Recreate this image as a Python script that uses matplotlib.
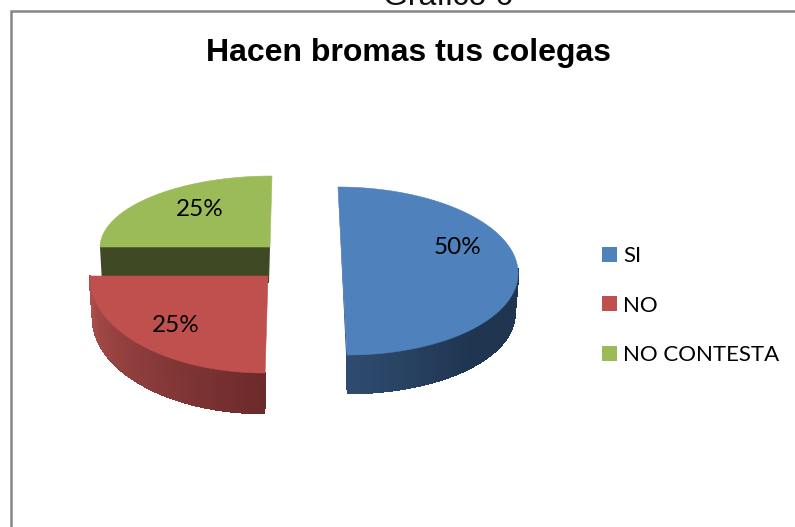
import numpy as np
import matplotlib
matplotlib.use("Agg")
import matplotlib.pyplot as plt
from matplotlib.patches import Patch, Polygon
from matplotlib.colors import to_rgb

categories = ["SI", "NO", "NO CONTESTA"]
values = [50, 25, 25]
colors = ["#4F81BD", "#C0504D", "#9BBB59"]
title = "Hacen bromas tus colegas"
caption = "Gráfico 6"

W, H = 795, 527
fig = plt.figure(figsize=(W / 100, H / 100), dpi=100)
ax = fig.add_axes([0, 0, 1, 1])
ax.set_xlim(0, W)
ax.set_ylim(H, 0)
ax.axis("off")

# exploded, tilted slice layout in pixels: (cx, cy, a, b, skew)
top_geom = [(342.5, 271, 175.5, 84, 0.054), (268, 276, 178, 97, -0.03), (270, 247, 170, 71, -0.028)]
bot_geom = [(343.5, 311, 171, 82, 0.054), (265, 317, 172, 96, -0.01), (269, 283, 168, 71, 0.0)]
side_cols = [("#2F4C70", "#1F3550"), ("#6C2A2B", "#AC4E4C"), ("#3F4A24", "#3F4A24")]
label_pos = [(458, 248), (176, 326), (200, 210)]


def pts(g, t):
    cx, cy, a, b, k = g
    return cx + a * np.cos(t) - k * b * np.sin(t), cy - b * np.sin(t)


def quad(tx, ty, bx, by, j, c, z):
    ax.add_patch(Polygon([(tx[j], ty[j]), (tx[j + 1], ty[j + 1]), (bx[j + 1], by[j + 1]), (bx[j], by[j])],
                         closed=True, fc=c, ec=c, lw=1.2, antialiased=False, zorder=z))


fractions = np.array(values) / sum(values)
ends = np.pi / 2 - 2 * np.pi * np.cumsum(fractions)
starts = ends + 2 * np.pi * fractions

for i in [2, 1, 0]:
    t = np.linspace(starts[i], ends[i], 121)
    tx, ty = pts(top_geom[i], t)
    bx, by = pts(bot_geom[i], t)
    c0, c1 = map(np.array, map(to_rgb, side_cols[i]))
    if i == 0:
        # thin inner wall along the straight edge, then the shaded rim
        ax.add_patch(Polygon([(tx[0], ty[0]), (tx[-1], ty[-1]), (bx[-1], by[-1])],
                             closed=True, fc="#1F3550", ec="none", zorder=2))
        for j in range(len(t) - 1):
            if t[j] <= 0.05:
                f = min(1.0, max(0.0, (t[j] + np.pi / 2) / 0.8))
                quad(tx, ty, bx, by, j, c0 + (c1 - c0) * f, 2)
    elif i == 1:
        for j in range(len(t) - 1):
            f = (t[j] - starts[i]) / (ends[i] - starts[i])
            quad(tx, ty, bx, by, j, c0 + (c1 - c0) * f, 3)
    else:
        # dark cut face seen behind the front slice
        lx, ly = pts(top_geom[i], starts[i])
        lbx, lby = pts(bot_geom[i], starts[i])
        ax.add_patch(Polygon([(lx, ly), top_geom[i][:2], bot_geom[i][:2], (lbx + 1, lby)],
                             closed=True, fc=side_cols[2][0], ec="none", zorder=1))
    ax.add_patch(Polygon(np.r_[[top_geom[i][:2]], np.c_[tx, ty]], closed=True, fc=colors[i], ec=colors[i],
                         lw=0.4, zorder=4 if i != 2 else 2))
    ax.text(*label_pos[i], f"{values[i]}%", ha="center", va="center", family="Lato", fontsize=17.5,
            color="black", zorder=6)

# chart frame (cut by the page on the right and bottom)
ax.plot([11, 11, W + 5], [H + 5, 11, 11], color="#868686", lw=1.8, solid_joinstyle="miter", zorder=5)

ax.text(408, 53, title, ha="center", va="center", family="Liberation Sans", fontweight="bold",
        fontsize=23, color="black")
ax.text(448, 5, caption, ha="center", va="baseline", family="Liberation Sans", fontsize=23, color="#111111")

handles = [Patch(fc=c, ec="none") for c in colors]
ax.legend(handles, categories, loc="upper left", bbox_to_anchor=(602, 246), bbox_transform=ax.transData,
          frameon=False, borderpad=0, borderaxespad=0, handlelength=0.68, handleheight=0.68, handletextpad=0.28,
          labelspacing=1.33, prop={"family": "Lato", "size": 16}, labelcolor="black")

fig.savefig("out.png", dpi=100)
